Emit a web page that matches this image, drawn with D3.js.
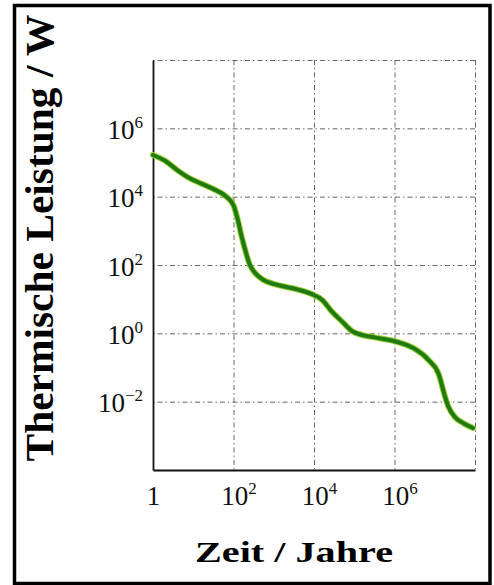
<!DOCTYPE html>
<html>
<head>
<meta charset="utf-8">
<script src="https://cdn.jsdelivr.net/npm/d3@7"></script>
<style>
  body { margin: 0; background: #fff; }
  svg { display: block; }
</style>
</head>
<body>
<svg id="chart"></svg>
<script>
// thermal power after shutdown (years, watts)
const years = [1, 2, 4, 8, 16, 32, 63, 100, 126, 158, 200, 251, 355, 562, 1000, 2000, 4000, 8900,
  1.6e4, 2.8e4, 5e4, 8.9e4, 1.6e5, 3.2e5, 8e5, 1.6e6, 3.2e6, 7e6, 1.26e7, 1.8e7, 2.2e7, 3.2e7, 5e7, 8.9e7];
const power = [1.66e5, 1.12e5, 6.0e4, 3.5e4, 2.4e4, 1.66e4, 1.05e4, 5600, 2240, 710, 250, 105, 56, 36, 28, 23, 19, 14,
  9.5, 4.3, 2.2, 1.15, 0.89, 0.76, 0.63, 0.5, 0.35, 0.166, 0.063, 0.014, 0.007, 0.0035, 0.0024, 0.0017];

const xTicks = [1, 1e2, 1e4, 1e6];
const xTickLabels = [["1", ""], ["10", "2"], ["10", "4"], ["10", "6"]];
const yTicks = [1e6, 1e4, 1e2, 1, 1e-2];
const yTickLabels = [["10", "6"], ["10", "4"], ["10", "2"], ["10", "0"], ["10", "\u22122"]];
const xGrid = [1e2, 1e4, 1e6, 1e8];
const yGrid = [1e-2, 1, 1e2, 1e4, 1e6, 1e8];

const W = 494, H = 585;
const margin = {top: 60, right: 19, bottom: 115, left: 153};
const width = W - margin.left - margin.right,
      height = H - margin.top - margin.bottom;

const svg = d3.select('#chart').attr('width', W).attr('height', H);

// outer frame
svg.append('rect')
  .attr('x', 14.5).attr('y', 5.5)
  .attr('width', 475.5).attr('height', 578)
  .attr('fill', 'none').attr('stroke', '#000').attr('stroke-width', 3.5);

const g = svg.append('g').attr('transform', `translate(${margin.left},${margin.top})`);

const x = d3.scaleLog().domain([1, 1e8]).range([0, width]);
const y = d3.scaleLog().domain([1e-4, 1e8]).range([height, 0]);

const gridStyle = sel => {
  sel.select('.domain').remove();
  sel.selectAll('line')
    .attr('stroke', '#333')
    .attr('stroke-opacity', 0.75)
    .attr('stroke-width', 1)
    .attr('stroke-dasharray', '5,3,1.5,3');
};

// grid
g.append('g')
  .call(d3.axisBottom(x).tickValues(xGrid).tickSize(height).tickFormat(''))
  .call(gridStyle);
g.append('g')
  .attr('transform', `translate(${width},0)`)
  .call(d3.axisLeft(y).tickValues(yGrid).tickSize(width).tickFormat(''))
  .call(gridStyle);

// axes
const tickFont = sel => sel.selectAll('text')
  .attr('font-family', '"Liberation Serif", "DejaVu Serif", serif')
  .attr('font-size', 27)
  .attr('fill', '#111');

const xAxis = g.append('g')
  .attr('transform', `translate(0,${height})`)
  .call(d3.axisBottom(x).tickValues(xTicks).tickSize(0).tickSizeOuter(0).tickPadding(16).tickFormat(''));
xAxis.select('.domain').attr('stroke', '#111').attr('stroke-width', 1.8);
xAxis.selectAll('.tick text').each(function (d, i) {
  const t = d3.select(this).attr('dy', '0.71em');
  const [base, sup] = xTickLabels[i];
  t.append('tspan').text(base);
  if (sup) t.append('tspan').attr('font-size', 17).attr('dy', -11).text(sup);
  if (sup) t.attr('dx', 5);
});
xAxis.call(tickFont);

const yAxis = g.append('g')
  .call(d3.axisLeft(y).tickValues(yTicks).tickSize(0).tickSizeOuter(0).tickPadding(10).tickFormat(''));
yAxis.select('.domain').attr('stroke', '#111').attr('stroke-width', 1.8);
yAxis.selectAll('.tick text').each(function (d, i) {
  const t = d3.select(this).attr('dy', '0.38em');
  const [base, sup] = yTickLabels[i];
  t.append('tspan').text(base);
  t.append('tspan').attr('font-size', 17).attr('dy', -11).text(sup);
});
yAxis.call(tickFont);

// curve
const pts = years.map((d, i) => [d, power[i]]);
const line = d3.line()
  .x(d => x(d[0]))
  .y(d => y(d[1]))
  .curve(d3.curveMonotoneX);

g.append('path').datum(pts)
  .attr('d', line)
  .attr('fill', 'none')
  .attr('stroke', '#9acd32')
  .attr('stroke-width', 6)
  .attr('stroke-linecap', 'round');
g.append('path').datum(pts)
  .attr('d', line)
  .attr('fill', 'none')
  .attr('stroke', '#1f7a12')
  .attr('stroke-width', 4)
  .attr('stroke-linecap', 'round');

// titles
svg.append('text')
  .attr('transform', 'translate(294,562)')
  .attr('text-anchor', 'middle')
  .attr('font-family', '"Liberation Serif", "DejaVu Serif", serif')
  .attr('font-weight', 'bold')
  .attr('font-size', 29)
  .attr('textLength', 198)
  .attr('lengthAdjust', 'spacingAndGlyphs')
  .text('Zeit / Jahre');

svg.append('text')
  .attr('transform', 'translate(53,238) rotate(-90)')
  .attr('text-anchor', 'middle')
  .attr('font-family', '"Liberation Serif", "DejaVu Serif", serif')
  .attr('font-weight', 'bold')
  .attr('font-size', 41)
  .attr('textLength', 447)
  .attr('lengthAdjust', 'spacingAndGlyphs')
  .text('Thermische Leistung / W');
</script>
</body>
</html>
